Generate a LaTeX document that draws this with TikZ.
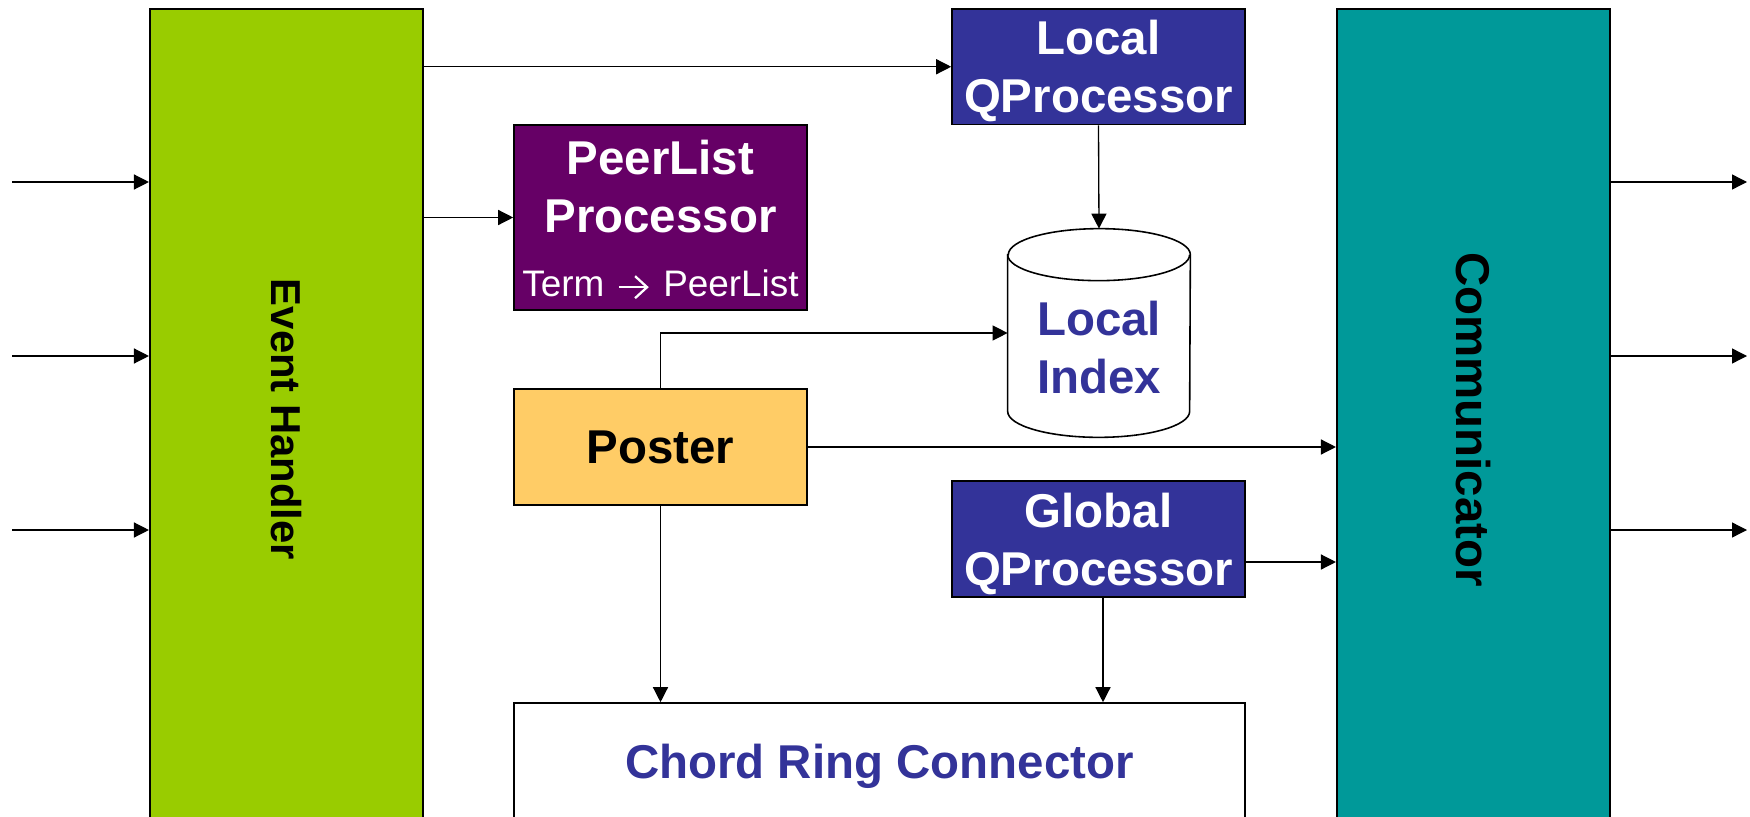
\documentclass[tikz,border=0pt]{standalone}
\usepackage{fontspec}
\setmainfont{Liberation Sans}
\usepackage{xcolor}
\usetikzlibrary{arrows.meta,positioning}
\definecolor{ehgreen}{HTML}{99CC00}
\definecolor{commteal}{HTML}{009999}
\definecolor{qblue}{HTML}{333399}
\definecolor{plpurple}{HTML}{660066}
\definecolor{postcol}{HTML}{FFCC66}
\newcommand{\boxfont}{\bfseries\fontsize{27}{33}\selectfont}
\newcommand{\topgap}[1]{\rule{0pt}{#1}}
\newcommand{\maparrow}{\hspace{0.06cm}\tikz[baseline=0pt]\draw[line width=1.3pt,-{Straight Barb[length=0.24cm,width=0.44cm]}] (0,0.18cm) -- (0.6cm,0.18cm);\hspace{0.06cm}}
\tikzset{
  block/.style={draw=black,line width=0.9pt,minimum width=5.86cm,align=center,inner sep=0pt,font=\boxfont},
  qproc/.style={block,fill=qblue,text=white,minimum height=2.31cm},
  column/.style={draw=black,line width=0.9pt,minimum width=5.47cm,minimum height=16.42cm,inner sep=0pt},
  link/.style={line width=0.75pt,-{Triangle[length=0.3cm,width=0.3cm]}},
}

\begin{document}
\begin{tikzpicture}
\path[use as bounding box,clip] (0,0) rectangle (35,-16.34);
\node[column,fill=ehgreen] (eh) at (5.73,-8.39) {};
\node[rotate=-90,font=\bfseries\fontsize{23.8}{28}\selectfont] (ehtext) at (eh.center) {Event Handler};
\node[column,fill=commteal] (comm) at (29.47,-8.39) {};
\node[rotate=-90,font=\boxfont] (commtext) at (comm.center) {Communicator};
\node[qproc] (lqp) at (21.97,-1.335) {\topgap{24.8pt}Local\\QProcessor};
\node[block,fill=plpurple,text=white,minimum height=3.7cm] (pl) at (13.21,-4.35)
  {\topgap{22.2pt}PeerList\\Processor\\[0.11cm]{\mdseries\fontsize{21}{25}\selectfont Term \maparrow\ PeerList}};
\node[block,fill=postcol,minimum height=2.32cm] (poster) at (13.21,-8.94) {Poster};
\node[qproc] (gqp) at (21.97,-10.78) {\topgap{24.8pt}Global\\QProcessor};
\node[block,fill=white,text=qblue,minimum width=14.62cm,minimum height=2.54cm] (chord) at (17.59,-15.33) {Chord Ring Connector};
\node[minimum width=3.64cm,minimum height=4.16cm,inner sep=0pt] (idx) at (21.98,-6.66) {};
\draw[line width=0.9pt,fill=white] ([yshift=-0.52cm]idx.north west) -- ([yshift=0.52cm]idx.south west)
  arc[start angle=180,end angle=360,x radius=1.82cm,y radius=0.52cm] -- ([yshift=-0.52cm]idx.north east)
  arc[start angle=0,end angle=180,x radius=1.82cm,y radius=0.52cm] -- cycle;
\draw[line width=0.9pt] ([yshift=-0.52cm]idx.north west) arc[start angle=180,end angle=360,x radius=1.82cm,y radius=0.52cm];
\node[font=\boxfont,text=qblue,align=center] (idxtext) at ([yshift=-0.3cm]idx.center) {Local\\Index};
\foreach \y in {-3.64,-7.12,-10.6} {
  \coordinate (src) at (0.24,\y);
  \coordinate (snk) at (34.94,\y);
  \draw[link] (src) -- (src -| eh.west);
  \draw[link] (snk -| comm.east) -- (snk);
}
\draw[link] (lqp.west -| eh.east) -- (lqp.west);
\draw[link] (pl.west -| eh.east) -- (pl.west);
\draw[link] (lqp.south) -- (idx.north);
\draw[link] (poster.north) |- (idx.west);
\draw[link] (poster.east) -- (poster.east -| comm.west);
\draw[link] ([yshift=-0.46cm]gqp.east) -- ([yshift=-0.46cm]gqp.east -| comm.west);
\draw[link] (poster.south) -- (poster.south |- chord.north);
\draw[link] ([xshift=0.09cm]gqp.south) -- ([xshift=0.09cm]gqp.south |- chord.north);
\end{tikzpicture}
\end{document}
